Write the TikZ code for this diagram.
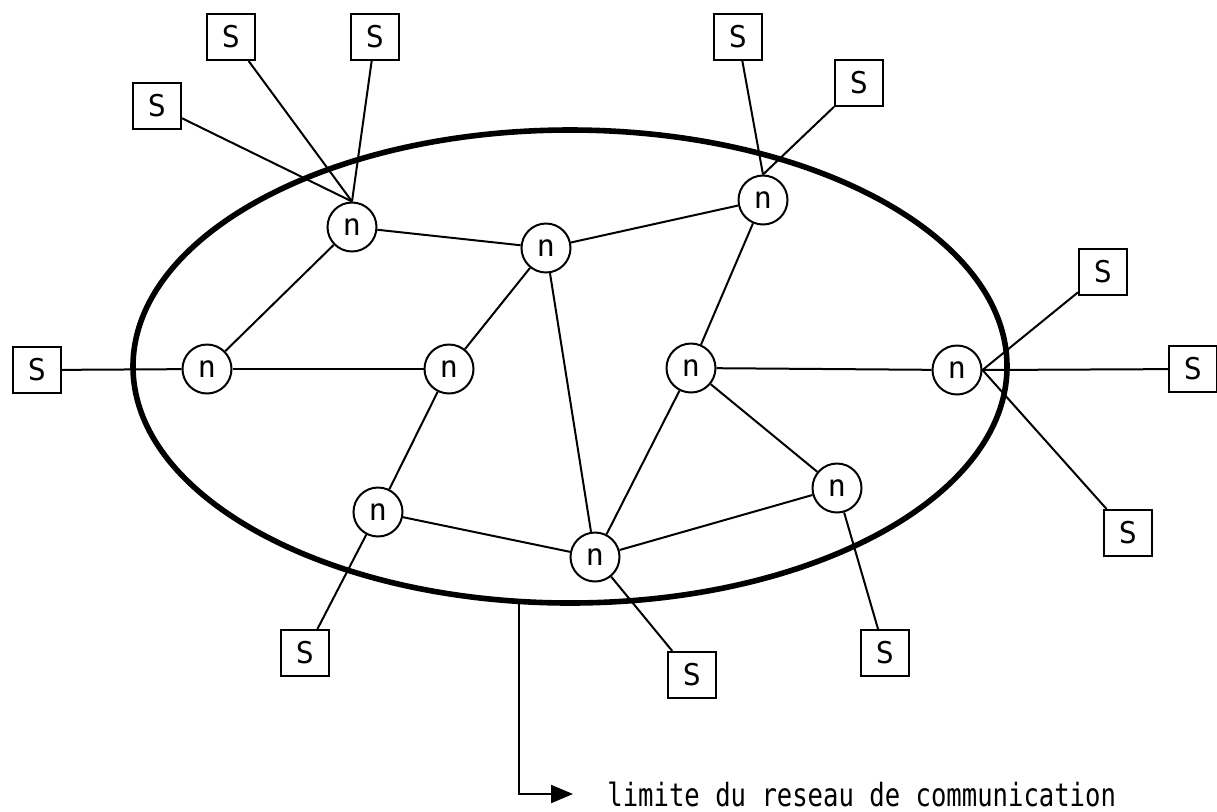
\documentclass[tikz,border=0pt]{standalone}
\usepackage{fontspec}
\newfontfamily\ecran[FakeStretch=0.8]{DejaVu Sans Mono}
\newfontfamily\lettre{DejaVu Sans Mono}
\usetikzlibrary{shapes.geometric, arrows.meta}
\tikzstyle{noeud} = [circle, draw, line width=1pt, minimum size=24.5pt, inner sep=0pt, font=\lettre\fontsize{15}{15}\selectfont]
\tikzstyle{station} = [rectangle, draw, line width=1pt, minimum width=24pt, minimum height=23pt, inner sep=0pt, font=\lettre\fontsize{15}{15}\selectfont]
\tikzstyle{liaison} = [line width=1pt]
\tikzstyle{frontiere} = [ellipse, draw, line width=2.8pt, minimum width=437pt, minimum height=236.5pt, inner sep=0pt]
\tikzstyle{fleche} = [line width=1pt, -{Triangle[length=11pt, width=9pt]}]

\begin{document}
\begin{tikzpicture}[x=0.5pt, y=-0.5pt]
	\useasboundingbox (0,0) rectangle (1217,811);

	% Network boundary
	\node (limite) [frontiere] at (570,366.5) {};

	% Switching nodes
	\node (n1)  [noeud] at (352,227) {n};
	\node (n2)  [noeud] at (546,248) {n};
	\node (n3)  [noeud] at (763,200) {n};
	\node (n4)  [noeud] at (207,369) {n};
	\node (n5)  [noeud] at (449,369) {n};
	\node (n6)  [noeud] at (691,368) {n};
	\node (n7)  [noeud] at (957,370) {n};
	\node (n8)  [noeud] at (378,512) {n};
	\node (n9)  [noeud] at (595,557) {n};
	\node (n10) [noeud] at (837,488) {n};

	% Stations
	\node (s1a) [station] at (231,37)   {S};
	\node (s1b) [station] at (375,37)   {S};
	\node (s1c) [station] at (157,106)  {S};
	\node (s3a) [station] at (738,37)   {S};
	\node (s3b) [station] at (859,83)   {S};
	\node (s4)  [station] at (37,370)   {S};
	\node (s7a) [station] at (1103,272) {S};
	\node (s7b) [station] at (1193,369) {S};
	\node (s7c) [station] at (1128,533) {S};
	\node (s8)  [station] at (305,653)  {S};
	\node (s9)  [station] at (692,675)  {S};
	\node (s10) [station] at (885,653)  {S};

	% Legend
	\node (legende) [anchor=west, inner sep=0pt, font=\ecran\fontsize{16}{16}\selectfont] at (607,794) {limite du reseau de communication};

	% Links - stations
	\draw[liaison] (s1a) -- (n1.north);
	\draw[liaison] (s1b) -- (n1.north);
	\draw[liaison] (s1c) -- (n1.north);
	\draw[liaison] (s3a) -- (n3.north);
	\draw[liaison] (s3b) -- (n3.north);
	\draw[liaison] (s4) -- (n4);
	\draw[liaison] (s7a) -- (n7.east);
	\draw[liaison] (s7b) -- (n7.east);
	\draw[liaison] (s7c) -- (n7.east);
	\draw[liaison] (s8) -- (n8);
	\draw[liaison] (s9) -- (n9);
	\draw[liaison] (s10) -- (n10);

	% Links - nodes
	\draw[liaison] (n1) -- (n2);
	\draw[liaison] (n1) -- (n4);
	\draw[liaison] (n2) -- (n3);
	\draw[liaison] (n2) -- (n5);
	\draw[liaison] (n2) -- (n9);
	\draw[liaison] (n3) -- (n6);
	\draw[liaison] (n4) -- (n5);
	\draw[liaison] (n5) -- (n8);
	\draw[liaison] (n6) -- (n7);
	\draw[liaison] (n6) -- (n9);
	\draw[liaison] (n6) -- (n10);
	\draw[liaison] (n8) -- (n9);
	\draw[liaison] (n9) -- (n10);

	% Pointer to legend
	\draw[fleche, shorten >=17pt] (limite.258) |- (legende);

\end{tikzpicture}
\end{document}
